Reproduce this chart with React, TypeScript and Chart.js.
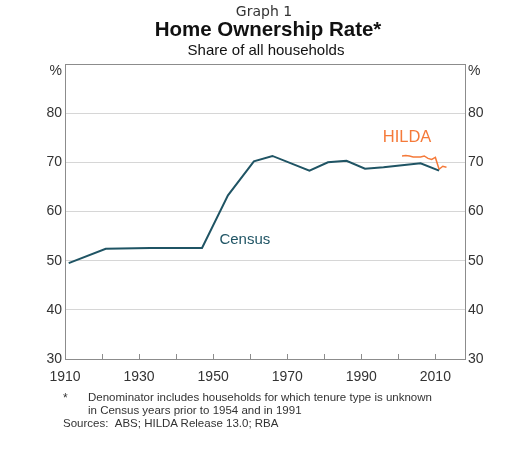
import React, { useEffect, useRef } from 'react';
import Chart from 'chart.js/auto';

const censusYears = [1911, 1921, 1933, 1947, 1954, 1961, 1966, 1976, 1981, 1986, 1991, 1996, 2001, 2006, 2011];
const censusRate = [49.5, 52.4, 52.6, 52.6, 63.3, 70.2, 71.3, 68.3, 70.0, 70.3, 68.7, 69.0, 69.4, 69.8, 68.3];

const hildaYears = [2001, 2002, 2003, 2004, 2005, 2006, 2007, 2008, 2009, 2010, 2011, 2012, 2013];
const hildaRate = [71.3, 71.4, 71.3, 71.1, 71.1, 71.1, 71.3, 70.8, 70.6, 71.0, 68.6, 69.2, 69.0];

const xTicks = [1910, 1930, 1950, 1970, 1990, 2010];
const yTicks = [30, 40, 50, 60, 70, 80];

const FONT = '"Liberation Sans", Arial, sans-serif';
const TEAL = '#1f5464';
const ORANGE = '#f57a3a';
const FRAME = '#8c8c8c';

const extras = {
  id: 'extras',
  afterDraw(chart: any) {
    const { ctx, chartArea, scales } = chart;
    const x = scales.x;
    const y = scales.y;
    ctx.save();
    // inner tick marks on the x axis
    ctx.strokeStyle = FRAME;
    ctx.lineWidth = 1;
    for (let yr = 1920; yr <= 2010; yr += 10) {
      const px = Math.round(x.getPixelForValue(yr)) + 0.5;
      ctx.beginPath();
      ctx.moveTo(px, chartArea.bottom);
      ctx.lineTo(px, chartArea.bottom - 5);
      ctx.stroke();
    }
    // % units
    ctx.fillStyle = '#333';
    ctx.font = `14px ${FONT}`;
    ctx.textBaseline = 'middle';
    ctx.textAlign = 'right';
    ctx.fillText('%', chartArea.left - 3, chartArea.top + 7);
    ctx.textAlign = 'left';
    ctx.fillText('%', chartArea.right + 3, chartArea.top + 7);
    // series labels
    ctx.font = `15px ${FONT}`;
    ctx.fillStyle = TEAL;
    ctx.fillText('Census', x.getPixelForValue(1951.7), y.getPixelForValue(54.3));
    ctx.font = `16.5px ${FONT}`;
    ctx.fillStyle = ORANGE;
    ctx.fillText('HILDA', x.getPixelForValue(1995.8), y.getPixelForValue(75.0));
    ctx.restore();
  },
};

const OwnershipChart: React.FC = () => {
  const canvasRef = useRef<HTMLCanvasElement>(null);
  const chartRef = useRef<Chart | null>(null);

  useEffect(() => {
    if (!canvasRef.current) return;
    const tickFont = { family: FONT, size: 14 };
    chartRef.current = new Chart(canvasRef.current, {
      type: 'line',
      data: {
        datasets: [
          {
            label: 'Census',
            data: censusYears.map((yr, i) => ({ x: yr, y: censusRate[i] })),
            borderColor: TEAL,
            borderWidth: 2,
            pointRadius: 0,
            tension: 0,
            yAxisID: 'y',
          },
          {
            label: 'HILDA',
            data: hildaYears.map((yr, i) => ({ x: yr, y: hildaRate[i] })),
            borderColor: ORANGE,
            borderWidth: 1.5,
            pointRadius: 0,
            tension: 0,
            yAxisID: 'y',
          },
        ],
      },
      options: {
        responsive: false,
        animation: false,
        layout: { padding: { top: 64, left: 0, right: 0, bottom: 0 } },
        plugins: { legend: { display: false }, tooltip: { enabled: false }, title: { display: false } },
        scales: {
          x: {
            type: 'linear',
            min: 1910,
            max: 2018,
            afterBuildTicks: (s: any) => { s.ticks = xTicks.map((v) => ({ value: v })); },
            afterFit: (s: any) => { s.height = 41; },
            ticks: {
              color: '#333',
              font: tickFont,
              padding: 10,
              maxRotation: 0,
              autoSkip: false,
              callback: (v: any) => String(v),
            },
            grid: { display: false, drawTicks: false },
            border: { display: true, color: FRAME, width: 1 },
          },
          y: {
            position: 'left',
            min: 30,
            max: 90,
            afterBuildTicks: (s: any) => { s.ticks = [...yTicks, 90].map((v) => ({ value: v })); },
            afterFit: (s: any) => { s.width = 65; },
            ticks: {
              color: '#333',
              font: tickFont,
              padding: 3,
              callback: (v: any) => (v === 90 ? '' : String(v)),
            },
            grid: {
              drawTicks: false,
              color: (c: any) => (c.tick && c.tick.value === 90 ? FRAME : '#d6d6d6'),
            },
            border: { display: true, color: FRAME, width: 1 },
          },
          y2: {
            position: 'right',
            min: 30,
            max: 90,
            afterBuildTicks: (s: any) => { s.ticks = [...yTicks, 90].map((v) => ({ value: v })); },
            afterFit: (s: any) => { s.width = 63; },
            ticks: {
              color: '#333',
              font: tickFont,
              padding: 3,
              callback: (v: any) => (v === 90 ? '' : String(v)),
            },
            grid: { drawOnChartArea: false, drawTicks: false },
            border: { display: true, color: FRAME, width: 1 },
          },
        },
      },
      plugins: [extras],
    });
    return () => {
      chartRef.current?.destroy();
      chartRef.current = null;
    };
  }, []);

  return <canvas ref={canvasRef} width={528} height={400} style={{ position: 'absolute', left: 0, top: 0 }} />;
};

const App: React.FC = () => {
  const txt: React.CSSProperties = { position: 'absolute', fontFamily: FONT, color: '#222', whiteSpace: 'nowrap', lineHeight: 1 };
  return (
    <div style={{ position: 'absolute', left: 0, top: 0, width: 528, height: 455, background: '#fff' }}>
      <OwnershipChart />
      <div style={{ ...txt, left: 0, width: 528, top: 4, textAlign: 'center', fontFamily: '"DejaVu Sans", sans-serif', fontSize: 14, color: '#333' }}>
        Graph 1
      </div>
      <div style={{ ...txt, left: 4, width: 528, top: 19, textAlign: 'center', fontSize: 20.5, fontWeight: 'bold', color: '#111' }}>
        Home Ownership Rate*
      </div>
      <div style={{ ...txt, left: 2, width: 528, top: 42, textAlign: 'center', fontSize: 15, color: '#111' }}>
        Share of all households
      </div>
      <div style={{ ...txt, left: 63, top: 392, fontSize: 12, color: '#333' }}>*</div>
      <div style={{ ...txt, left: 88, top: 392, fontSize: 11.5, color: '#333' }}>
        Denominator includes households for which tenure type is unknown
      </div>
      <div style={{ ...txt, left: 88, top: 405, fontSize: 11.5, color: '#333' }}>
        in Census years prior to 1954 and in 1991
      </div>
      <div style={{ ...txt, left: 63, top: 418, fontSize: 11.5, color: '#333' }}>
        Sources:&nbsp;&nbsp;ABS; HILDA Release 13.0; RBA
      </div>
    </div>
  );
};

export default App;
